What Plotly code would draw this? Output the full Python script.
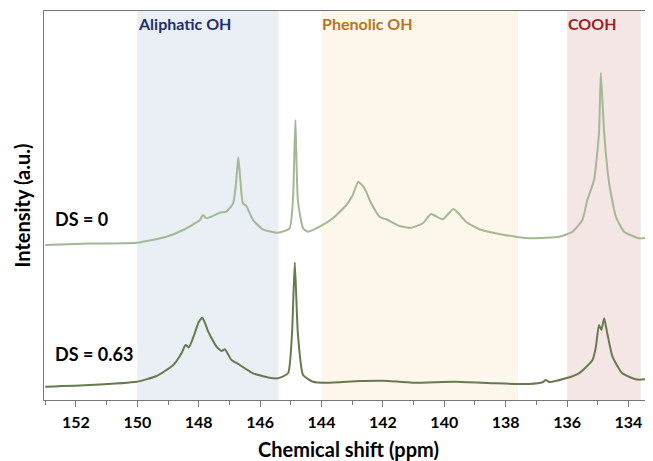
import plotly.graph_objects as go

# DS = 0 spectrum (ppm, intensity a.u.)
ppm_ds0 = [153.00, 151.54, 150.02, 149.05, 148.51, 147.96, 147.86, 147.75, 147.31, 147.10,
           146.88, 146.79, 146.71, 146.63, 146.56, 146.45, 146.23, 145.91, 145.42, 145.04,
           144.93, 144.85, 144.77, 144.60, 144.44, 144.06, 143.63, 143.19, 142.98, 142.80,
           142.60, 142.38, 142.11, 141.84, 141.46, 141.08, 140.70, 140.43, 140.05, 139.70,
           139.29, 138.86, 138.21, 137.67, 137.13, 136.26, 135.82, 135.50, 135.34, 135.12,
           134.96, 134.90, 134.79, 134.63, 134.41, 134.14, 133.65, 133.23]
int_ds0 = [155, 156.5, 157.3, 163.3, 170, 180, 185, 181.7, 187.3, 188.3,
           196.7, 215, 242.7, 215, 196.7, 194, 180, 170.7, 167.3, 171.7,
           200, 280, 200, 171.7, 168.3, 173.3, 181.7, 195, 205, 218.3,
           211.7, 196.7, 183.3, 180, 174, 172.3, 176.7, 186, 180.7, 191,
           178.3, 170.7, 166, 163.3, 161.7, 163.3, 168.3, 180, 200, 220,
           267, 327, 267, 217, 183.3, 168.3, 161.7, 162.7]

# DS = 0.63 spectrum
ppm_ds063 = [153.00, 151.54, 150.02, 149.37, 148.83, 148.56, 148.43, 148.32, 148.13, 148.00,
             147.88, 147.77, 147.69, 147.42, 147.25, 147.15, 146.93, 146.66, 146.23, 145.69,
             145.42, 145.09, 144.96, 144.87, 144.77, 144.60, 144.28, 143.84, 142.76, 142.00,
             141.03, 139.62, 138.32, 137.23, 136.80, 136.69, 136.58, 136.04, 135.61, 135.17,
             135.06, 134.96, 134.88, 134.79, 134.69, 134.52, 134.20, 133.76, 133.49, 133.23]
int_ds063 = [13.3, 15, 18.3, 24, 35, 46.7, 55, 52.7, 66.7, 78,
             82.3, 75, 68.3, 53.3, 49, 50.7, 40, 35, 26.7, 22.3,
             21.7, 26.7, 66.7, 137.7, 66.7, 25, 18.3, 17.3, 19, 19.3,
             17.3, 18.3, 16.7, 16, 17.7, 20, 18, 21.7, 26.7, 40,
             53.3, 75, 70, 81.7, 66.7, 43.3, 26.7, 20.7, 20.7, 22.7]

# shaded regions
region_names = ["Aliphatic OH", "Phenolic OH", "COOH"]
region_start = [150.0, 144.0, 136.0]
region_end = [145.4, 137.6, 133.6]
region_fill = ["#e9eff4", "#fdf6eb", "#f5e6e6"]
region_text = ["#1f2e6e", "#b87425", "#a11f27"]

tick_vals = [152, 150, 148, 146, 144, 142, 140, 138, 136, 134]

FONT = "Lato"

fig = go.Figure()
fig.add_trace(go.Scatter(x=ppm_ds0, y=int_ds0, mode="lines",
                         line=dict(color="#a4b894", width=2, shape="spline", smoothing=0.5),
                         showlegend=False))
fig.add_trace(go.Scatter(x=ppm_ds063, y=int_ds063, mode="lines",
                         line=dict(color="#677a4f", width=2, shape="spline", smoothing=0.5),
                         showlegend=False))

for name, a, b, fc, tc in zip(region_names, region_start, region_end, region_fill, region_text):
    fig.add_shape(type="rect", xref="x", yref="paper", x0=a, x1=b, y0=0, y1=1,
                  fillcolor=fc, line=dict(width=0), layer="below")
    fig.add_annotation(x=a, y=0.968, xref="x", yref="paper", text=f"<b>{name}</b>",
                       showarrow=False, xanchor="left", yanchor="middle", xshift=-1,
                       font=dict(family=FONT, size=16, color=tc))

fig.add_annotation(x=152.75, y=181, xref="x", yref="y", text="<b>DS = 0</b>",
                   showarrow=False, xanchor="left", yanchor="middle",
                   font=dict(family=FONT, size=18, color="black"))
fig.add_annotation(x=152.75, y=46, xref="x", yref="y", text="<b>DS = 0.63</b>",
                   showarrow=False, xanchor="left", yanchor="middle",
                   font=dict(family=FONT, size=18, color="black"))

# the page shows the figure offset by the 8px body margin, so size it to fit
fig.update_layout(
    width=645, height=453,
    margin=dict(l=36, r=0, t=3, b=61),
    plot_bgcolor="white", paper_bgcolor="white",
    font=dict(family=FONT, color="black"),
    xaxis=dict(range=[153.04, 133.2], tickvals=tick_vals,
               ticktext=[f"<b>{v}</b>" for v in tick_vals],
               tickfont=dict(family=FONT, size=16, color="black"),
               ticks="outside", ticklen=6, tickcolor="#777", ticklabelstandoff=2,
               minor=dict(dtick=1, tick0=133, ticks="outside", ticklen=4, tickcolor="#777"),
               showline=True, linecolor="#777", linewidth=1.3, mirror=True,
               showgrid=False, zeroline=False, automargin=False,
               title=dict(text="<b>Chemical shift (ppm)</b>", standoff=20,
                          font=dict(family=FONT, size=20, color="black"))),
    yaxis=dict(range=[0, 389], showticklabels=False, ticks="",
               showline=True, linecolor="#777", linewidth=1.3,
               showgrid=False, zeroline=False, automargin=False,
               title=dict(text="<b>Intensity (a.u.)</b>", standoff=6,
                          font=dict(family=FONT, size=20, color="black"))),
)

fig.write_html("out.html")
